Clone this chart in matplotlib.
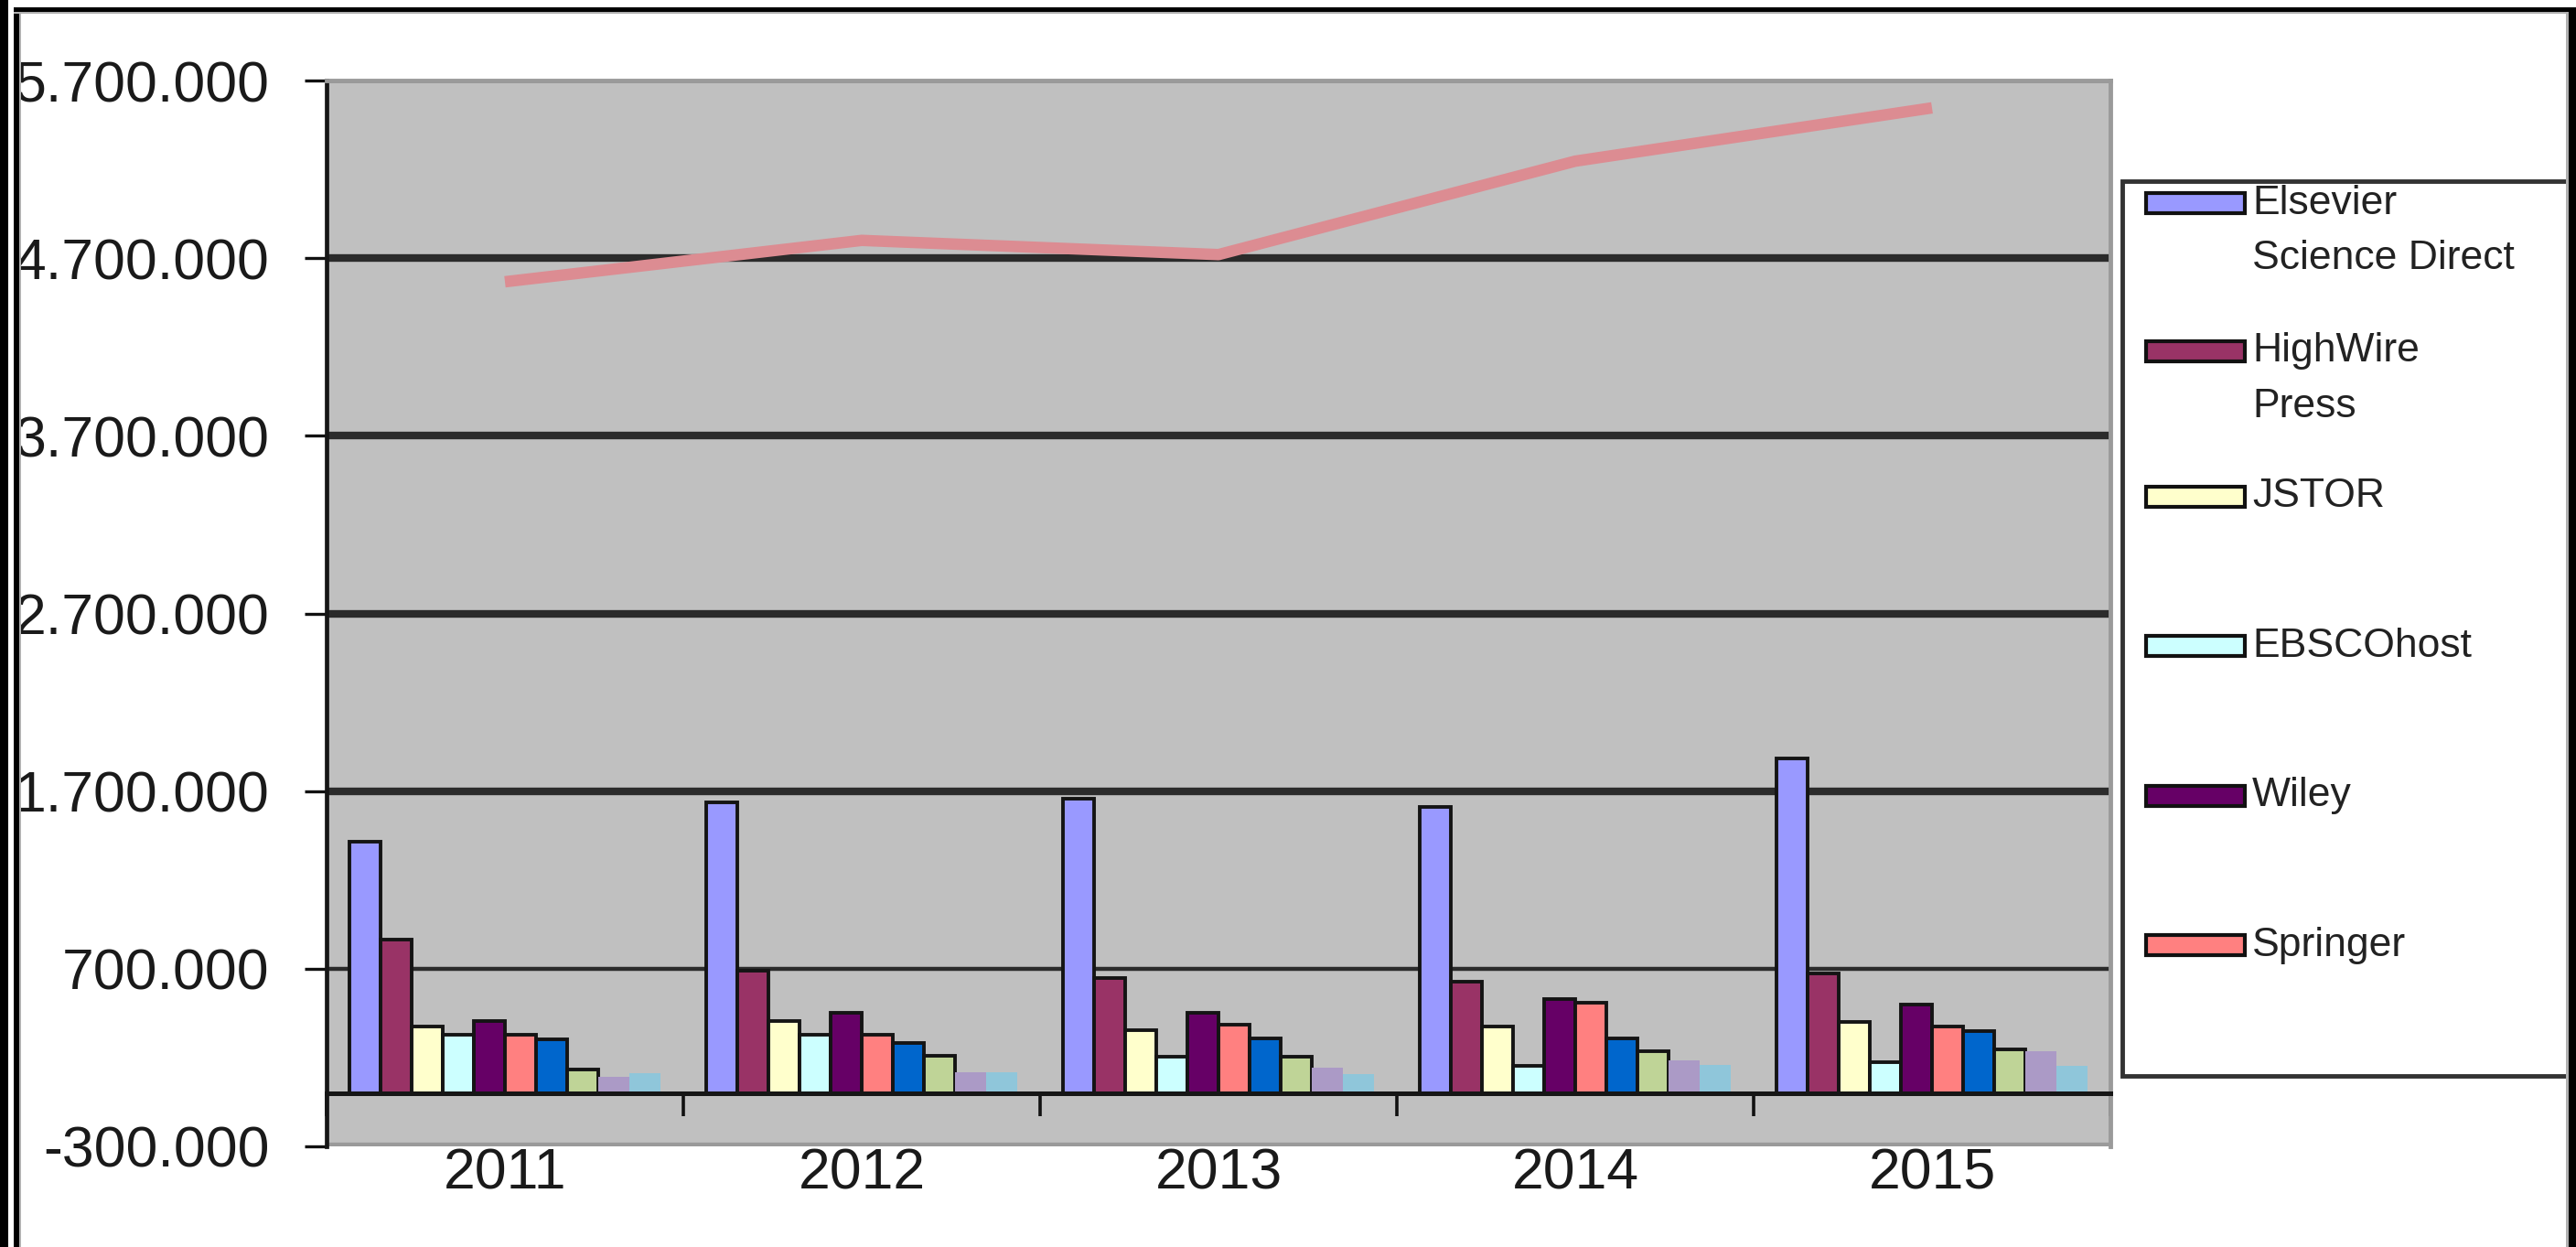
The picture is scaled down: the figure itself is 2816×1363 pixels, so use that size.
import matplotlib
matplotlib.use('Agg')
import matplotlib.pyplot as plt
from matplotlib.patches import Rectangle
import numpy as np

# ---------------- data ----------------
years = ['2011', '2012', '2013', '2014', '2015']
elsevier = [1415000, 1635000, 1655000, 1610000, 1885000]
highwire = [865000, 690000, 650000, 625000, 675000]
jstor = [375000, 405000, 352000, 375000, 400000]
ebsco = [330000, 330000, 203000, 151000, 172000]
wiley = [408000, 452000, 452000, 529000, 500000]
springer = [328000, 328000, 383000, 509000, 375000]
series7 = [302000, 280000, 306000, 306000, 349000]
series8 = [134000, 211000, 206000, 234000, 245000]
series9 = [91000, 117000, 143000, 186000, 237000]
series10 = [113000, 117000, 108000, 160000, 155000]
total_line = [4567000, 4800000, 4720000, 5246000, 5546000]
legend_labels = ['Elsevier\nScience Direct', 'HighWire\nPress', 'JSTOR',
                 'EBSCOhost', 'Wiley', 'Springer']
yticks = [-300000, 700000, 1700000, 2700000, 3700000, 4700000, 5700000]

series = [elsevier, highwire, jstor, ebsco, wiley, springer,
          series7, series8, series9, series10]
colors = ['#9999FF', '#993366', '#FFFFCC', '#CCFFFF', '#660066', '#FF8080',
          '#0066CC', '#BFD497', '#AB9AC6', '#8FC6DA']
edged = [True] * 8 + [False, False]

FONT = 'Liberation Sans'
plt.rcParams['font.family'] = [FONT, 'DejaVu Sans']

W, H = 2816, 1363
fig = plt.figure(figsize=(W / 100, H / 100), dpi=100)
fig.patch.set_facecolor('white')

def fx(px):
    return px / W

def fy(py):
    return 1 - py / H

ax_l, ax_r, ax_t, ax_b = 357, 2307, 88, 1253
ax = fig.add_axes([fx(ax_l), fy(ax_b), (ax_r - ax_l) / W, (ax_b - ax_t) / H])
ax.set_facecolor('#C0C0C0')

x = np.arange(len(years))
bw = 0.087
n = len(series)
for i, (vals, c, e) in enumerate(zip(series, colors, edged)):
    off = (i - (n - 1) / 2) * bw
    if e:
        ax.bar(x + off, vals, width=bw, color=c, edgecolor='#141414',
               linewidth=2.8, zorder=3)
    else:
        ax.bar(x + off, vals, width=bw, color=c, linewidth=0, zorder=3)

ax.plot(x, total_line, color='#DC8C92', lw=9, solid_capstyle='butt',
        solid_joinstyle='round', zorder=5)

ax.set_xlim(-0.5, len(years) - 0.5)
ax.set_ylim(yticks[0], yticks[-1])

# y axis
ax.set_yticks(yticks)
ax.set_yticklabels([f"{v:,}".replace(',', '.') for v in yticks],
                   fontsize=45, color='#1a1a1a')
ax.tick_params(axis='y', length=17, width=2.4, pad=28, color='#111111')

# gridlines
ax.set_axisbelow(True)
ax.yaxis.grid(True, color='#2b2b2b', linewidth=6)
for t, v in zip(ax.yaxis.get_major_ticks(), yticks):
    if v == 700000:
        t.gridline.set_linewidth(3.2)
    elif v == yticks[0]:
        t.gridline.set_visible(False)
    elif v == yticks[-1]:
        t.gridline.set_color('#8c8c8c')
        t.gridline.set_linewidth(4)

# x axis at zero
ax.spines['bottom'].set_position(('data', 0))
ax.spines['bottom'].set_linewidth(3.6)
ax.spines['bottom'].set_color('#161616')
ax.spines['bottom'].set_zorder(4)
ax.spines['left'].set_linewidth(3.4)
ax.spines['left'].set_color('#161616')
for s in ['top', 'right']:
    ax.spines[s].set_color('#9a9a9a')
    ax.spines[s].set_linewidth(3.5)
ax.axhline(yticks[0], color='#9a9a9a', lw=6, zorder=1)

ax.set_xticks(np.arange(len(years) + 1) - 0.5)
ax.set_xticklabels([])
ax.set_xticks(x, minor=True)
ax.set_xticklabels(years, minor=True, fontsize=45, color='#1a1a1a')
ax.tick_params(axis='x', which='major', length=18, width=2.6,
               color='#111111', direction='out')
ax.tick_params(axis='x', which='minor', length=0, pad=42)

# ---------------- legend (drawn manually) ----------------
lg_l, lg_t, lg_r, lg_b = 2320, 198, 2812, 1176
fig.patches.append(Rectangle((fx(lg_l), fy(lg_b)), (lg_r - lg_l) / W,
                             (lg_b - lg_t) / H, transform=fig.transFigure,
                             facecolor='white', edgecolor='#333333',
                             linewidth=3.5, zorder=1))
entry_y = [222, 384, 543, 706, 870, 1033]
line_step = 61
for lab, yc, c in zip(legend_labels, entry_y, colors[:6]):
    fig.patches.append(Rectangle((fx(2346), fy(yc + 11)), 108 / W, 22 / H,
                                 transform=fig.transFigure, facecolor=c,
                                 edgecolor='#111111', linewidth=3, zorder=2))
    for k, line in enumerate(lab.split('\n')):
        fig.text(fx(2462), fy(yc + k * line_step), line, fontsize=32,
                 color='#222222', va='center', ha='left', zorder=3)

# ---------------- figure border ----------------
def rect(x0, y0, x1, y1, color):
    fig.patches.append(Rectangle((fx(x0), fy(y1)), (x1 - x0) / W,
                                 (y1 - y0) / H, transform=fig.transFigure,
                                 facecolor=color, edgecolor='none', zorder=10))

rect(0, 0, 9, H, 'black')
rect(15, 8, 21, H, 'black')
rect(21, 13, 23, H, '#b0b0b0')
rect(15, 8, W, 13, 'black')
rect(15, 13, W, 15, '#b0b0b0')
rect(2805, 13, 2808, H, '#b0b0b0')
rect(2808, 8, W, H, 'black')

fig.savefig('out.png', dpi=100, facecolor='white')
